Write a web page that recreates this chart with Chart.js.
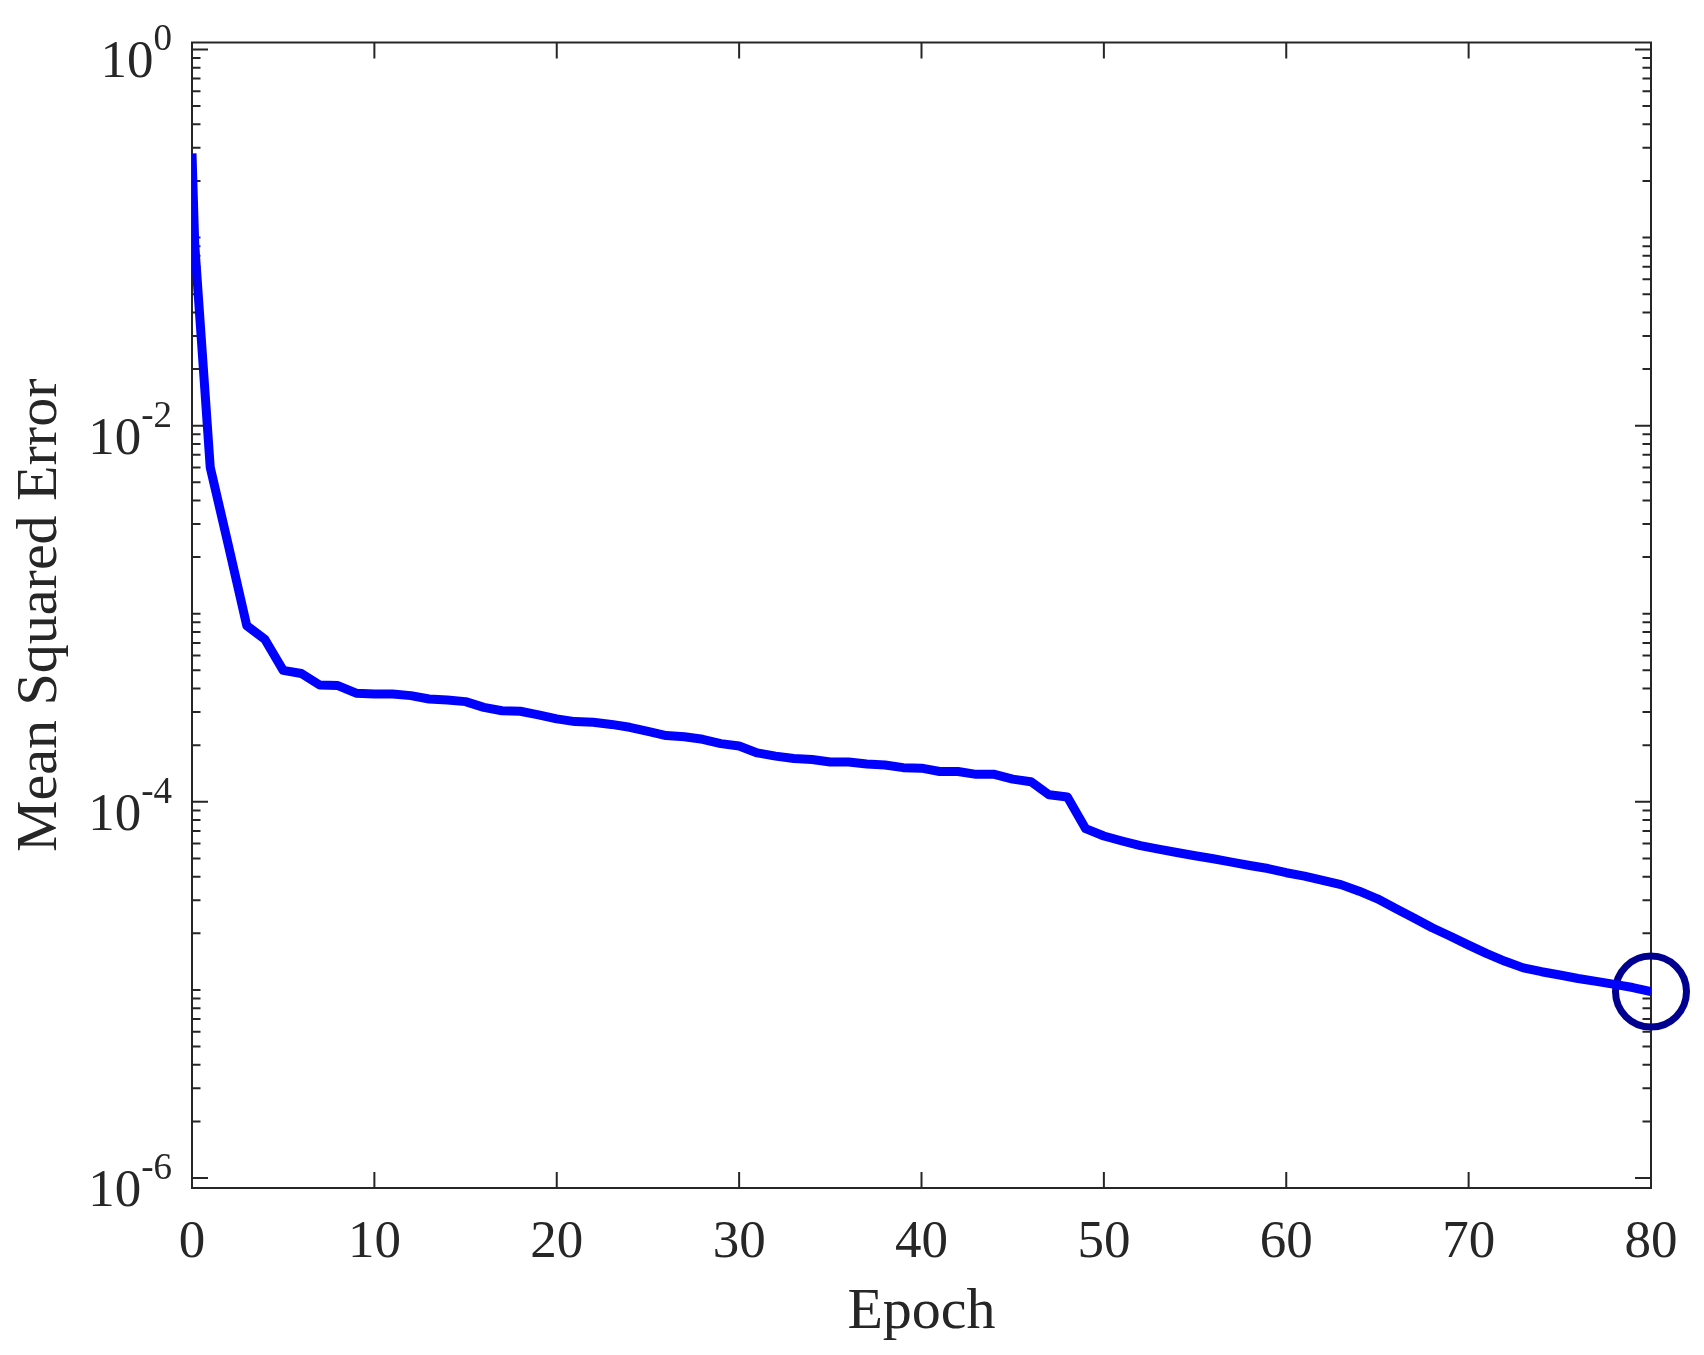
<!DOCTYPE html>
<html>
<head>
<meta charset="utf-8">
<title>Mean Squared Error</title>
<script src="https://cdn.jsdelivr.net/npm/chart.js@4.4.1/dist/chart.umd.min.js"></script>
<style>
    html, body { margin: 0; padding: 0; background: #ffffff; }
    #wrap { width: 1704px; height: 1355px; }
</style>
</head>
<body>
<div id="wrap"><canvas id="mseChart" width="1704" height="1355"></canvas></div>
<script>
// Training curve
const epochs = [0, 0.15, 1, 2, 3, 4, 5, 6, 7, 8, 9,
    10, 11, 12, 13, 14, 15, 16, 17, 18, 19,
    20, 21, 22, 23, 24, 25, 26, 27, 28, 29,
    30, 31, 32, 33, 34, 35, 36, 37, 38, 39,
    40, 41, 42, 43, 44, 45, 46, 47, 48, 49,
    50, 51, 52, 53, 54, 55, 56, 57, 58, 59,
    60, 61, 62, 63, 64, 65, 66, 67, 68, 69,
    70, 71, 72, 73, 74, 75, 76, 77, 78, 79, 80];
const mse = [0.28, 0.092, 6.0e-3, 2.3e-3, 8.65e-4, 7.3e-4, 5.0e-4, 4.81e-4, 4.18e-4, 4.15e-4, 3.78e-4,
    3.74e-4, 3.74e-4, 3.67e-4, 3.52e-4, 3.48e-4, 3.41e-4, 3.18e-4, 3.05e-4, 3.03e-4, 2.90e-4,
    2.76e-4, 2.67e-4, 2.65e-4, 2.58e-4, 2.49e-4, 2.37e-4, 2.25e-4, 2.22e-4, 2.15e-4, 2.04e-4,
    1.98e-4, 1.82e-4, 1.75e-4, 1.70e-4, 1.68e-4, 1.63e-4, 1.63e-4, 1.59e-4, 1.57e-4, 1.52e-4,
    1.51e-4, 1.45e-4, 1.45e-4, 1.40e-4, 1.40e-4, 1.32e-4, 1.28e-4, 1.09e-4, 1.06e-4, 7.2e-5,
    6.58e-5, 6.19e-5, 5.85e-5, 5.6e-5, 5.38e-5, 5.17e-5, 4.98e-5, 4.78e-5, 4.59e-5, 4.42e-5,
    4.2e-5, 4.03e-5, 3.82e-5, 3.63e-5, 3.35e-5, 3.05e-5, 2.71e-5, 2.41e-5, 2.14e-5, 1.93e-5,
    1.73e-5, 1.56e-5, 1.42e-5, 1.31e-5, 1.25e-5, 1.2e-5, 1.15e-5, 1.11e-5, 1.07e-5, 1.03e-5, 9.8e-6];

const xTicks = [0, 10, 20, 30, 40, 50, 60, 70, 80];
const yLabelExponents = [0, -2, -4, -6];
const xTitle = 'Epoch';
const yTitle = 'Mean Squared Error';

const AXIS_COLOR = '#262626';
const FONT = '"Liberation Serif", "Times New Roman", serif';

// MATLAB style box with inward ticks and 10^n labels
const matlabAxes = {
    id: 'matlabAxes',
    beforeDatasetsDraw(chart) {
        const { ctx, chartArea: a, scales: { x, y } } = chart;
        ctx.save();
        ctx.strokeStyle = AXIS_COLOR;
        ctx.lineWidth = 2;
        ctx.beginPath();
        xTicks.forEach(v => {
            const px = x.getPixelForValue(v);
            ctx.moveTo(px, a.bottom);
            ctx.lineTo(px, a.bottom - 16);
            ctx.moveTo(px, a.top);
            ctx.lineTo(px, a.top + 16);
        });
        for (let e = -6; e <= 0; e++) {
            for (let m = 1; m <= 9; m++) {
                if (e === 0 && m > 1) break;
                const py = y.getPixelForValue(m * Math.pow(10, e));
                const len = (m === 1 && yLabelExponents.includes(e)) ? 16 : 8.5;
                ctx.moveTo(a.left, py);
                ctx.lineTo(a.left + len, py);
                ctx.moveTo(a.right, py);
                ctx.lineTo(a.right - len, py);
            }
        }
        ctx.stroke();
        ctx.strokeRect(a.left, a.top, a.right - a.left, a.bottom - a.top);
        ctx.restore();
    },
    afterDraw(chart) {
        const { ctx, chartArea: a, scales: { x, y } } = chart;
        ctx.save();
        ctx.fillStyle = AXIS_COLOR;
        ctx.textBaseline = 'alphabetic';

        ctx.font = '53px ' + FONT;
        ctx.textAlign = 'center';
        xTicks.forEach(v => {
            ctx.fillText(String(v), x.getPixelForValue(v), a.bottom + 69);
        });

        ctx.textAlign = 'left';
        const rightEdge = 172;
        yLabelExponents.forEach(e => {
            const py = y.getPixelForValue(Math.pow(10, e));
            const expStr = String(e);
            ctx.font = '37px ' + FONT;
            const expW = ctx.measureText(expStr).width;
            ctx.font = '53px ' + FONT;
            const baseW = ctx.measureText('10').width;
            ctx.fillText('10', rightEdge - expW - baseW, py + 28);
            ctx.font = '37px ' + FONT;
            ctx.fillText(expStr, rightEdge - expW, py + 1);
        });

        ctx.font = '58px ' + FONT;
        ctx.textAlign = 'center';
        ctx.fillText(xTitle, (a.left + a.right) / 2, a.bottom + 140);

        ctx.translate(56, (a.top + a.bottom) / 2);
        ctx.rotate(-Math.PI / 2);
        ctx.fillText(yTitle, 0, 0);
        ctx.restore();
    }
};

const lastIdx = mse.length - 1;

new Chart(document.getElementById('mseChart').getContext('2d'), {
    type: 'line',
    data: {
        datasets: [
            {
                label: 'MSE',
                data: epochs.map((e, i) => ({ x: e, y: mse[i] })),
                borderColor: '#0000ff',
                borderWidth: 9,
                borderJoinStyle: 'round',
                borderCapStyle: 'butt',
                pointRadius: 0,
                tension: 0,
                fill: false
            },
            {
                label: 'Best',
                data: [{ x: epochs[lastIdx], y: mse[lastIdx] }],
                showLine: false,
                pointRadius: 35.5,
                pointBorderWidth: 7,
                pointBorderColor: '#000090',
                pointBackgroundColor: 'rgba(0,0,0,0)',
                clip: false
            }
        ]
    },
    options: {
        responsive: false,
        animation: false,
        devicePixelRatio: 1,
        layout: {
            padding: { left: 192, top: 37, right: 53, bottom: 167 }
        },
        scales: {
            x: {
                type: 'linear',
                min: 0,
                max: 80,
                display: false
            },
            y: {
                type: 'logarithmic',
                min: Math.pow(10, -6.053),
                max: Math.pow(10, 0.037),
                display: false
            }
        },
        plugins: {
            legend: { display: false },
            tooltip: { enabled: false }
        }
    },
    plugins: [matlabAxes]
});
</script>
</body>
</html>
